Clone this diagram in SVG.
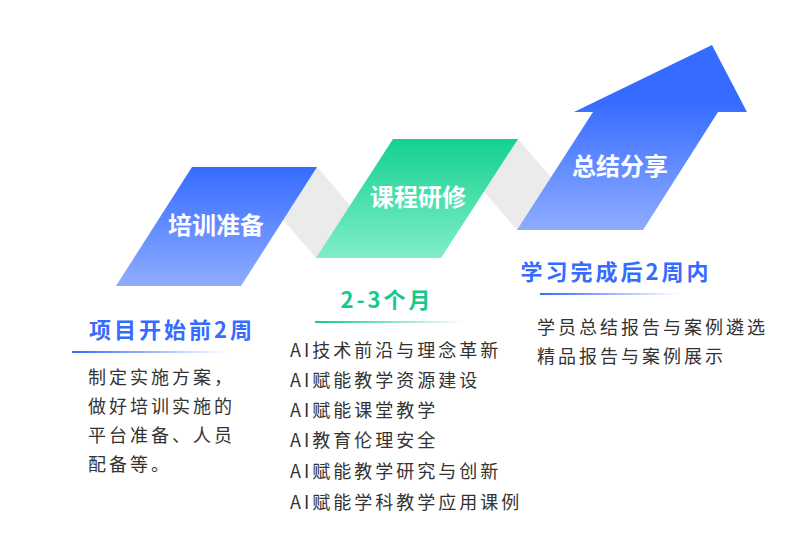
<svg xmlns="http://www.w3.org/2000/svg" width="800" height="548" viewBox="0 0 800 548">
<defs>
<linearGradient id="gb" x1="0" y1="0" x2="0" y2="1"><stop offset="0" stop-color="#356bff"/><stop offset="1" stop-color="#8eacff"/></linearGradient>
<linearGradient id="gb2" x1="0" y1="0" x2="0" y2="1"><stop offset="0.3" stop-color="#356bff"/><stop offset="1" stop-color="#8eacff"/></linearGradient>
<linearGradient id="gg" x1="0" y1="0" x2="0" y2="1"><stop offset="0" stop-color="#14d18f"/><stop offset="1" stop-color="#80eec8"/></linearGradient>
<linearGradient id="lb" x1="0" y1="0" x2="1" y2="0"><stop offset="0" stop-color="#356bff"/><stop offset="1" stop-color="#356bff" stop-opacity="0"/></linearGradient>
<linearGradient id="lg" x1="0" y1="0" x2="1" y2="0"><stop offset="0" stop-color="#14c98a"/><stop offset="1" stop-color="#14c98a" stop-opacity="0"/></linearGradient>
</defs>
<style>
.t{font-family:"Noto Sans CJK SC","Noto Sans",sans-serif;font-weight:700;fill:#fff;font-size:24px;text-anchor:middle}
.h{font-family:"Noto Sans CJK SC","Noto Sans",sans-serif;font-weight:700;font-size:22px;text-anchor:middle;letter-spacing:3px}
.b{font-family:"Noto Sans CJK SC","Noto Sans",sans-serif;font-size:18px;fill:#333;letter-spacing:3px}
</style>
<rect width="800" height="548" fill="#fff"/>
<g id="connectors" fill="#ebebeb">
<polygon points="317,167 360,217 316,258 273,208"/>
<polygon points="518,139 561,189 517,230 474,180"/>
</g>
<g id="n1"><polygon points="192,167 317,167 241,286 116,286" fill="url(#gb)"/><text class="t" x="216" y="234">培训准备</text></g>
<g id="n2"><polygon points="393,139 518,139 441,258 316,258" fill="url(#gg)"/><text class="t" x="418" y="206">课程研修</text></g>
<g id="n3"><polygon points="517,230 593,112 574,112 712,45 747,112 718,112 643,230" fill="url(#gb2)"/><text class="t" x="620" y="175">总结分享</text></g>
<g id="l1"><text class="h" x="172" y="338" fill="#356bff">项目开始前2周</text><rect x="72" y="351" width="155" height="2" fill="url(#lb)"/>
<text class="b" x="88" y="384">制定实施方案，</text><text class="b" x="88" y="413">做好培训实施的</text><text class="b" x="88" y="442">平台准备、人员</text><text class="b" x="88" y="471">配备等。</text></g>
<g id="l2"><text class="h" x="387" y="308" fill="#14c98a">2-3个月</text><rect x="315" y="321" width="150" height="2" fill="url(#lg)"/>
<text class="b" x="290" y="357">AI技术前沿与理念革新</text><text class="b" x="290" y="387">AI赋能教学资源建设</text><text class="b" x="290" y="417">AI赋能课堂教学</text><text class="b" x="290" y="447">AI教育伦理安全</text><text class="b" x="290" y="478">AI赋能教学研究与创新</text><text class="b" x="290" y="509">AI赋能学科教学应用课例</text></g>
<g id="l3"><text class="h" x="616" y="280" fill="#356bff">学习完成后2周内</text><rect x="540" y="293" width="140" height="2" fill="url(#lb)"/>
<text class="b" x="537" y="334">学员总结报告与案例遴选</text><text class="b" x="537" y="363">精品报告与案例展示</text></g>
</svg>
